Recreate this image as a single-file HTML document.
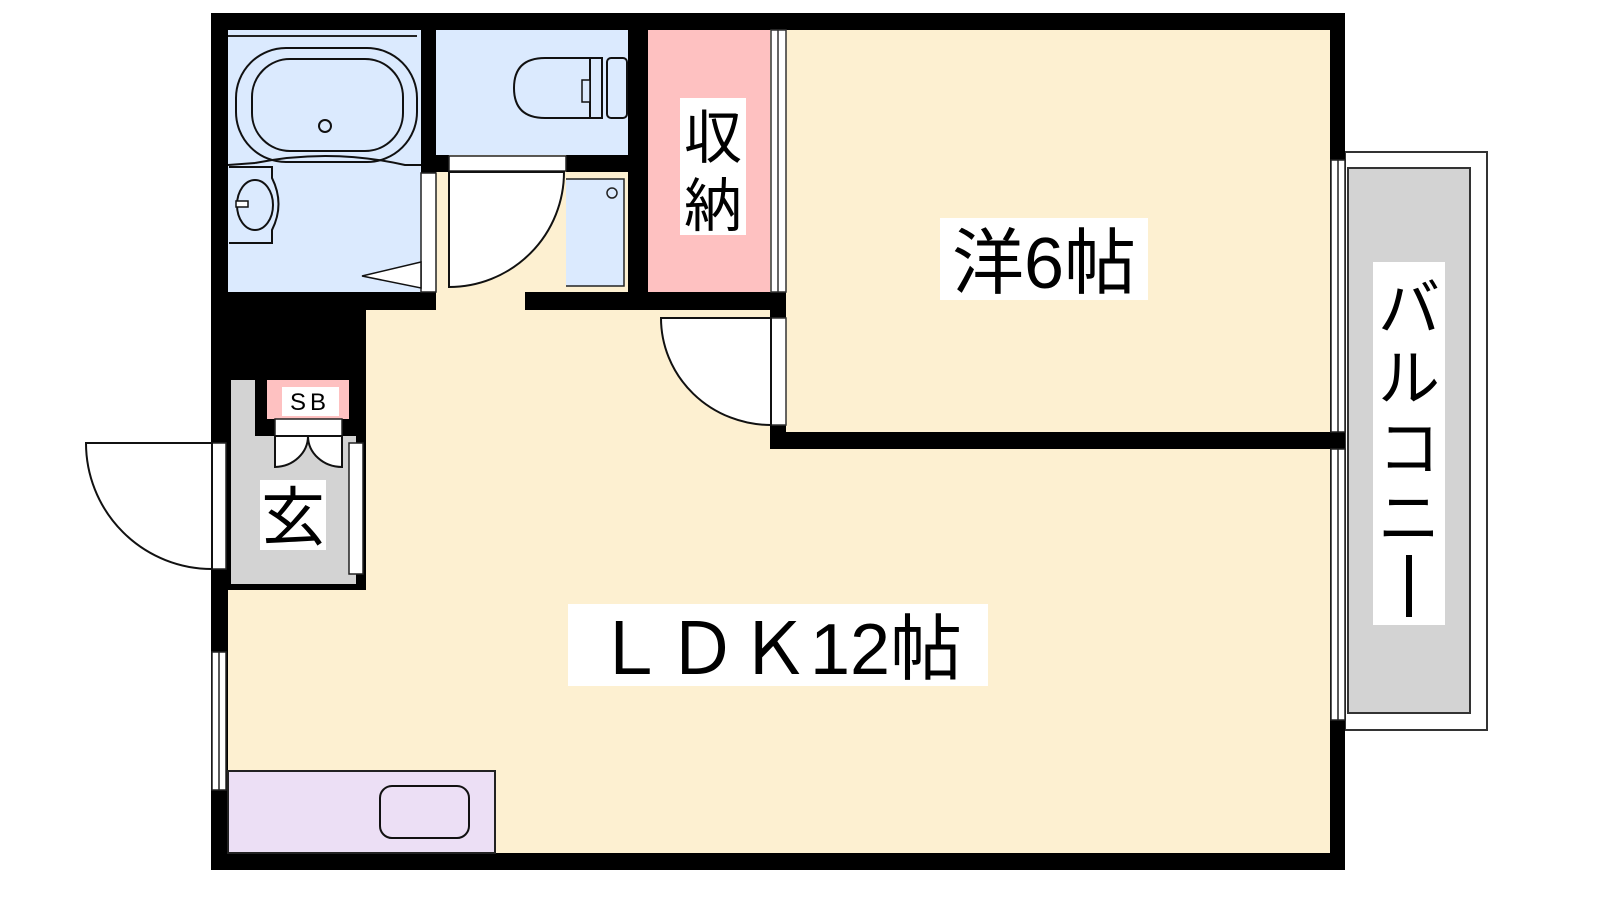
<!DOCTYPE html>
<html><head><meta charset="utf-8"><style>
html,body{margin:0;padding:0;background:#fff;width:1600px;height:900px;overflow:hidden}
svg{display:block}
text{font-family:"Liberation Sans","Noto Sans CJK JP",sans-serif;fill:#000}
</style></head><body>
<svg width="1600" height="900" viewBox="0 0 1600 900" xmlns="http://www.w3.org/2000/svg">
<!-- balcony -->
<rect x="1345" y="152" width="142" height="578" fill="#fff" stroke="#333" stroke-width="2"/>
<rect x="1348" y="168" width="122" height="545" fill="#d3d3d3" stroke="#333" stroke-width="2"/>
<rect x="1373" y="262" width="72" height="363" fill="#fff"/>
<text x="1409" y="330" font-size="62" text-anchor="middle">バ</text>
<text x="1409" y="400" font-size="62" text-anchor="middle">ル</text>
<text x="1409" y="470" font-size="62" text-anchor="middle">コ</text>
<text x="1409" y="540" font-size="62" text-anchor="middle">ニ</text>
<rect x="1406" y="555" width="6" height="62" fill="#000"/>

<!-- outer walls -->
<rect x="211" y="13" width="1134" height="857" fill="#000"/>
<!-- LDK + bedroom cream -->
<rect x="228" y="30" width="1102" height="823" fill="#fdf0d1"/>
<!-- bath -->
<rect x="228" y="30" width="193" height="262" fill="#dbeafe"/>
<!-- toilet -->
<rect x="436" y="30" width="192" height="125" fill="#dbeafe"/>
<!-- storage -->
<rect x="648" y="30" width="122" height="262" fill="#fec1c1"/>
<!-- walls interior -->
<rect x="421" y="13" width="15" height="160" fill="#000"/>
<rect x="628" y="13" width="20" height="297" fill="#000"/>
<rect x="421" y="155" width="28" height="17" fill="#000"/>
<rect x="566" y="155" width="64" height="17" fill="#000"/>
<rect x="449" y="156" width="117" height="15" fill="#fff" stroke="#222" stroke-width="1.5"/>
<rect x="211" y="292" width="225" height="18" fill="#000"/>
<rect x="525" y="292" width="261" height="18" fill="#000"/>
<rect x="211" y="292" width="155" height="298" fill="#000"/>
<rect x="770" y="292" width="16" height="26" fill="#000"/>
<rect x="770" y="425" width="16" height="24" fill="#000"/>
<rect x="770" y="432" width="575" height="17" fill="#000"/>
<!-- washing machine space -->
<rect x="566" y="172" width="62" height="120" fill="#fdf0d1"/>
<rect x="560" y="179" width="64" height="107" fill="#dbeafe" stroke="#222" stroke-width="1.5"/>
<circle cx="612" cy="193" r="5" fill="none" stroke="#222" stroke-width="1.5"/>
<!-- hall door -->
<rect x="436" y="172" width="130" height="120" fill="#fdf0d1"/>
<path d="M449 172 L449 287 A115 115 0 0 0 564 172 Z" fill="#fff" stroke="#111" stroke-width="2"/>
<rect x="421" y="173" width="15" height="119" fill="#fff" stroke="#222" stroke-width="1.5"/>
<!-- bath fixtures -->
<line x1="228" y1="36" x2="417" y2="36" stroke="#222" stroke-width="2"/>
<rect x="236" y="48" width="181" height="114" rx="50" fill="none" stroke="#111" stroke-width="2"/>
<rect x="252" y="59" width="151" height="92" rx="38" fill="none" stroke="#111" stroke-width="2"/>
<circle cx="325" cy="126" r="6" fill="none" stroke="#111" stroke-width="2"/>
<path d="M255 163 Q330 148 405 165 L421 165" fill="none" stroke="#111" stroke-width="2"/>
<line x1="228" y1="165" x2="255" y2="163" stroke="#111" stroke-width="2"/>
<path d="M229 167 L272 167 L272 178 Q285 204 272 230 L272 243 L229 243" fill="#dbeafe" stroke="#111" stroke-width="2"/>
<ellipse cx="255" cy="205" rx="18" ry="25" fill="none" stroke="#111" stroke-width="2"/>
<rect x="236" y="201" width="12" height="6" fill="#fff" stroke="#111" stroke-width="1.5"/>
<path d="M421 262 L362 276 L421 288 Z" fill="#fff" stroke="#111" stroke-width="1.5"/>
<!-- toilet -->
<path d="M590 58 L545 58 Q514 58 514 88 Q514 118 545 118 L590 118 Z" fill="none" stroke="#111" stroke-width="2"/>
<rect x="590" y="58" width="12" height="60" fill="none" stroke="#111" stroke-width="2"/>
<rect x="582" y="80" width="8" height="22" fill="#dbeafe" stroke="#111" stroke-width="1.5"/>
<rect x="607" y="58" width="20" height="60" rx="4" fill="none" stroke="#111" stroke-width="2"/>
<!-- storage partition -->
<rect x="771" y="30" width="15" height="262" fill="#fff" stroke="#333" stroke-width="1.5"/>
<line x1="778" y1="30" x2="778" y2="292" stroke="#333" stroke-width="1.5"/>
<rect x="680" y="98" width="66" height="137" fill="#fff"/>
<text x="713" y="158" font-size="58" text-anchor="middle">収</text>
<text x="713" y="226" font-size="58" text-anchor="middle">納</text>
<!-- bedroom door -->
<rect x="771" y="318" width="15" height="107" fill="#fff" stroke="#333" stroke-width="1.5"/>
<path d="M661 318 L771 318 L771 425 A110 107 0 0 1 661 318 Z" fill="#fff" stroke="#111" stroke-width="2"/>
<!-- bedroom label -->
<rect x="940" y="218" width="208" height="82" fill="#fff"/>
<text x="1044" y="288" font-size="72" text-anchor="middle">洋6帖</text>
<!-- right windows -->
<rect x="1331" y="160" width="14" height="272" fill="#fff" stroke="#222" stroke-width="1.5"/>
<line x1="1338" y1="160" x2="1338" y2="432" stroke="#222" stroke-width="1.5"/>
<rect x="1331" y="449" width="14" height="271" fill="#fff" stroke="#222" stroke-width="1.5"/>
<line x1="1338" y1="449" x2="1338" y2="720" stroke="#222" stroke-width="1.5"/>
<!-- entrance -->
<path d="M231 380 L255 380 L255 436 L356 436 L356 584 L231 584 Z" fill="#d3d3d3"/>
<rect x="267" y="380" width="82" height="39" fill="#fec1c1"/>
<rect x="282" y="387" width="57" height="29" fill="#fff"/>
<text x="310" y="410" font-size="24" text-anchor="middle" letter-spacing="4">SB</text>
<rect x="275" y="419" width="67" height="17" fill="#fff" stroke="#222" stroke-width="1.5"/>
<path d="M275 436 L275 467 A34 31 0 0 0 308 436 Z" fill="#fff" stroke="#111" stroke-width="2"/>
<path d="M342 436 L342 467 A34 31 0 0 1 308 436 Z" fill="#fff" stroke="#111" stroke-width="2"/>
<rect x="260" y="480" width="66" height="70" fill="#fff"/>
<text x="293" y="540" font-size="64" text-anchor="middle">玄</text>
<rect x="349" y="443" width="14" height="131" fill="#fff" stroke="#222" stroke-width="1.5"/>
<rect x="212" y="443" width="14" height="126" fill="#fff" stroke="#222" stroke-width="1.5"/>
<path d="M86 443 L212 443 L212 569 A126 126 0 0 1 86 443 Z" fill="#fff" stroke="#111" stroke-width="2"/>
<!-- LDK cream fix for entrance right -->
<rect x="366" y="310" width="4" height="280" fill="#fdf0d1"/>
<!-- left window -->
<rect x="212" y="652" width="14" height="138" fill="#fff" stroke="#222" stroke-width="1.5"/>
<line x1="219" y1="652" x2="219" y2="790" stroke="#222" stroke-width="1.5"/>
<!-- kitchen -->
<rect x="228" y="771" width="267" height="82" fill="#ecdff5" stroke="#222" stroke-width="2"/>
<rect x="380" y="786" width="89" height="52" rx="12" fill="none" stroke="#111" stroke-width="2"/>
<!-- LDK label -->
<rect x="568" y="604" width="420" height="82" fill="#fff"/>
<text x="778" y="674" font-size="72" text-anchor="middle">ＬＤＫ12帖</text>
</svg>
</body></html>
